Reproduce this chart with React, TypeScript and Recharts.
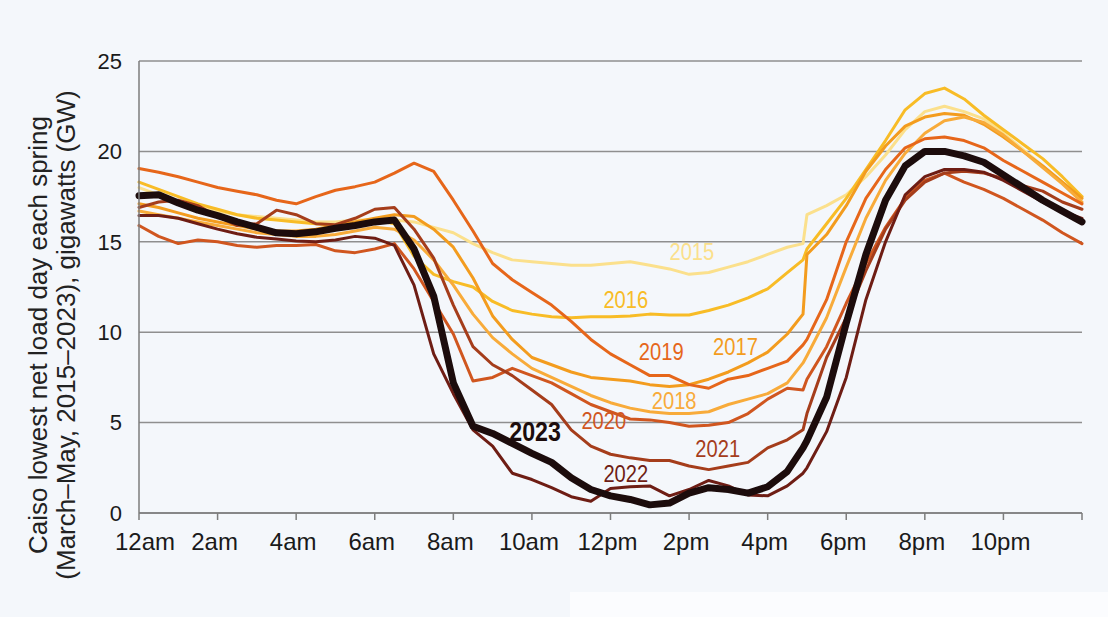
import React from 'react';
import { LineChart, Line, XAxis, YAxis, CartesianGrid, ReferenceDot } from 'recharts';

// Hours of the day (0 = midnight, 24 = next midnight)
const hours = [0,0.5,1,1.5,2,2.5,3,3.5,4,4.5,5,5.5,6,6.5,7,7.5,8,8.5,9,9.5,10,10.5,11,11.5,12,12.5,13,13.5,14,14.5,15,15.5,16,16.5,16.9,17,17.5,18,18.5,19,19.5,20,20.5,21,21.5,22,22.5,23,23.5,24];

// Net load (GW) on the lowest spring day, per year
const y2015 = [18.0,17.6,17.2,16.9,16.7,16.5,16.4,16.3,16.2,16.1, 16.1,16.2,16.2,16.2,16.1,15.8,15.5,14.9,14.4,14.0, 13.9,13.8,13.7,13.7,13.8,13.9,13.7,13.5,13.2,13.3, 13.6,13.9,14.3,14.7,14.9,16.5,17.0,17.6,18.6,19.8, 21.2,22.2,22.5,22.2,21.8,21.0,20.1,19.2,18.3,17.5];
const y2016 = [18.3,17.9,17.5,17.1,16.8,16.5,16.3,16.2,16.1,16.0, 15.9,16.0,16.2,16.0,14.2,13.2,12.8,12.5,11.7,11.2, 11.0,10.85,10.8,10.85,10.85,10.9,11.0,10.95,10.95,11.2, 11.5,11.9,12.4,13.3,14.0,14.6,16.0,17.4,19.0,20.6, 22.3,23.2,23.5,22.9,22.0,21.2,20.4,19.6,18.6,17.5];
const y2017 = [17.1,16.9,16.6,16.3,16.1,15.9,15.7,15.6,15.6,15.7, 15.9,16.1,16.3,16.5,16.4,15.7,14.7,13.0,10.9,9.6, 8.6,8.2,7.8,7.5,7.4,7.3,7.1,7.0,7.1,7.4, 7.8,8.3,8.9,9.9,11.0,14.3,15.4,17.0,18.9,20.3, 21.4,21.9,22.1,22.0,21.5,20.8,20.0,19.2,18.3,17.4];
const y2018 = [16.7,16.5,16.3,16.1,15.9,15.7,15.5,15.4,15.3,15.3, 15.4,15.6,15.8,15.7,15.1,14.0,12.6,11.0,9.7,8.8, 8.0,7.5,7.0,6.5,6.1,5.8,5.6,5.5,5.5,5.6, 6.0,6.3,6.6,7.2,8.3,8.7,10.8,13.6,16.3,18.4, 19.9,21.0,21.7,21.9,21.6,20.9,20.0,19.1,18.2,17.2];
const y2019 = [19.05,18.85,18.6,18.3,18.0,17.8,17.6,17.3,17.1,17.5, 17.85,18.05,18.3,18.8,19.35,18.9,17.3,15.6,13.8,12.9, 12.2,11.5,10.6,9.6,8.8,8.2,7.6,7.6,7.1,6.9, 7.4,7.6,8.0,8.4,9.3,9.6,11.8,15.0,17.4,19.0, 20.2,20.7,20.8,20.6,20.2,19.5,18.9,18.3,17.7,17.1];
const y2020 = [15.9,15.3,14.9,15.1,15.0,14.8,14.7,14.8,14.8,14.85, 14.5,14.4,14.6,14.9,13.5,11.7,9.9,7.3,7.5,8.0, 7.6,7.2,6.6,6.0,5.6,5.2,5.15,5.0,4.8,4.85, 5.0,5.5,6.3,6.9,6.8,7.4,9.2,11.6,13.8,15.8, 17.4,18.4,18.8,18.3,17.9,17.4,16.8,16.2,15.5,14.9];
const y2021 = [16.9,17.2,17.3,17.0,16.4,15.9,16.0,16.75,16.5,16.0, 15.95,16.3,16.8,16.9,15.7,14.1,11.5,9.2,8.2,7.6, 6.8,6.0,4.6,3.7,3.25,3.05,2.9,2.9,2.6,2.4, 2.6,2.8,3.6,4.05,4.6,5.5,8.6,10.8,13.4,15.7, 17.3,18.3,18.8,18.9,18.8,18.5,18.1,17.8,17.2,16.8];
const y2022 = [16.45,16.45,16.3,16.0,15.7,15.45,15.25,15.15,15.05,15.0, 15.1,15.3,15.2,14.8,12.6,8.8,6.6,4.6,3.7,2.2, 1.85,1.4,0.9,0.65,1.35,1.45,1.5,0.95,1.3,1.8, 1.5,1.0,0.95,1.5,2.2,2.5,4.5,7.5,11.8,15.0, 17.6,18.6,19.0,19.0,18.85,18.4,17.8,17.2,16.7,16.3];
const y2023 = [17.55,17.6,17.15,16.75,16.45,16.1,15.8,15.5,15.45,15.55, 15.75,15.9,16.1,16.2,14.6,12.0,7.2,4.8,4.4,3.85, 3.3,2.8,1.95,1.3,0.95,0.75,0.45,0.55,1.1,1.4, 1.3,1.1,1.45,2.3,3.6,4.0,6.4,10.5,14.3,17.3, 19.2,20.0,20.0,19.75,19.4,18.7,18.0,17.3,16.7,16.1];

// Axis ticks and labels
const xTicks = [0,2,4,6,8,10,12,14,16,18,20,22,24];
const xTickLabels = ['12am','2am','4am','6am','8am','10am','12pm','2pm','4pm','6pm','8pm','10pm',''];
const yTicks = [0,5,10,15,20,25];
const yTitle = ['Caiso lowest net load day each spring', '(March\u2013May, 2015\u20132023), gigawatts (GW)'];

// In-chart year labels, placed in data coordinates (hour, GW)
const labelYears = ['2015','2016','2017','2018','2019','2020','2021','2022','2023'];
const labelHours = [14.07,12.39,15.18,13.62,13.29,11.83,14.73,12.39,10.08];
const labelValues = [14.42,11.77,9.17,6.2,8.9,5.1,3.55,2.17,4.49];

const seriesValues = [y2015,y2016,y2017,y2018,y2019,y2020,y2021,y2022,y2023];
const seriesYears = ['2015','2016','2017','2018','2019','2020','2021','2022','2023'];

const rows = hours.map((h, i) => {
  const r: Record<string, number> = { h };
  seriesYears.forEach((yr, k) => { r['y' + yr] = seriesValues[k][i]; });
  return r;
});

const COLORS: Record<string, string> = {
  '2015': '#fbe08c',
  '2016': '#f8bc26',
  '2017': '#f39c1e',
  '2018': '#f8ab3a',
  '2019': '#e6661a',
  '2020': '#d0561f',
  '2021': '#a53d1b',
  '2022': '#6e1d14',
  '2023': '#1c0c0c',
};

const FONT = "'Liberation Sans', Arial, Helvetica, sans-serif";
const BG = '#f4f7fb';
const AXIS = '#7d7d7d';

const XTick = (props: any) => {
  const { x, y, payload } = props;
  const idx = xTicks.indexOf(payload.value);
  const dx = idx === 0 ? 6 : -3;
  return (
    <text x={x + dx} y={y} dy={17} textAnchor="middle" fill="#1a1a1a" fontSize={24} fontFamily={FONT}>
      {xTickLabels[idx] ?? ''}
    </text>
  );
};

export default function App() {
  return (
    <div style={{ position: 'absolute', left: 0, top: 0, width: 1108, height: 617, background: BG, overflow: 'hidden' }}>
      <div style={{ position: 'absolute', left: 570, top: 592, width: 538, height: 25, background: '#fbfcfe' }} />
      <LineChart width={1108} height={617} data={rows} margin={{ top: 61, right: 26, bottom: 64, left: 0 }}>
        <CartesianGrid vertical={false} stroke="#8f8f8f" strokeWidth={1.5} />
        <XAxis
          dataKey="h"
          type="number"
          domain={[0, 24]}
          ticks={xTicks}
          interval={0}
          height={40}
          tickSize={7}
          tickMargin={13}
          stroke={AXIS}
          strokeWidth={1.5}
          tick={<XTick />}
        />
        <YAxis
          type="number"
          domain={[0, 25]}
          ticks={yTicks}
          interval={0}
          width={139}
          tickLine={false}
          tickSize={0}
          tickMargin={17}
          axisLine={{ stroke: AXIS, strokeWidth: 1.5 }}
          tick={{ fill: '#1a1a1a', fontSize: 22, fontFamily: FONT }}
        />
        {seriesYears.map((yr) => (
          <Line
            key={yr}
            dataKey={'y' + yr}
            type="linear"
            stroke={COLORS[yr]}
            strokeWidth={yr === '2023' ? 7 : 3}
            strokeLinejoin="round"
            strokeLinecap="round"
            dot={false}
            activeDot={false}
            isAnimationActive={false}
          />
        ))}
        {labelYears.map((yr, i) => (
          <ReferenceDot
            key={'lab' + yr}
            x={labelHours[i]}
            y={labelValues[i]}
            r={2}
            shape={(p: any) => (
              <text
                transform={`translate(${p.cx},${p.cy}) scale(${yr === '2023' ? 0.86 : 0.84},1)`}
                x={0}
                y={0}
                textAnchor="middle"
                dominantBaseline="central"
                fill={COLORS[yr]}
                fontFamily={FONT}
                fontSize={yr === '2023' ? 27 : 24}
                fontWeight={yr === '2023' ? 700 : 400}
              >
                {yr}
              </text>
            )}
          />
        ))}
      </LineChart>
      <svg width={1108} height={617} style={{ position: 'absolute', left: 0, top: 0, pointerEvents: 'none' }}>
        <g fontFamily={FONT} fontSize={26} fill="#222222">
          <text transform="translate(47,335) rotate(-90)" textAnchor="middle">{yTitle[0]}</text>
          <text transform="translate(75,335) rotate(-90)" textAnchor="middle">{yTitle[1]}</text>
        </g>
      </svg>
    </div>
  );
}
